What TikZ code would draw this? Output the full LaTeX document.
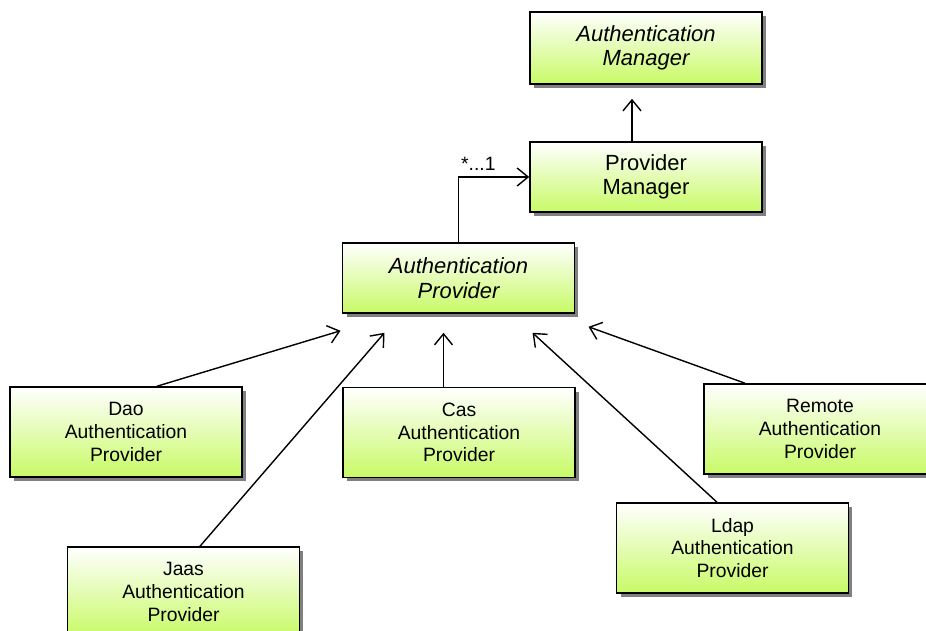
\documentclass[tikz,border=0pt]{standalone}
\usepackage{fontspec}
\setmainfont{Liberation Sans}
\usetikzlibrary{arrows.meta,positioning,calc,shadows}
\definecolor{boxlime}{HTML}{C8FA66}
\tikzstyle{classbox} = [rectangle, draw=black, line width=0.9pt, top color=white, bottom color=boxlime,
    drop shadow={shadow xshift=0.08cm, shadow yshift=-0.08cm, fill=black!50, opacity=1},
    minimum width=4.64cm, text width=4.4cm, align=center, font=\fontsize{11}{13}\selectfont]
\tikzstyle{abstractbox} = [classbox, font=\fontsize{12.5}{14}\selectfont\itshape, minimum height=1.44cm]
\tikzstyle{arrow} = [-{Straight Barb[length=2.2mm,width=3.6mm]}, line width=0.8pt]

\begin{document}
\begin{tikzpicture}[x=0.02cm, y=-0.02cm]
\useasboundingbox (0,0) rectangle (926,631);

% managers and the provider interface
\node[abstractbox] (authmgr) at (646,48) {Authentication\\Manager};
\node[classbox, font=\fontsize{12.5}{14}\selectfont, minimum height=1.4cm] (provmgr) at (646,177) {Provider\\Manager};
\node[abstractbox, minimum height=1.4cm] (authprov) at (458.5,278) {Authentication\\Provider};

% concrete providers
\node[classbox, minimum height=1.8cm] (dao) at (126,432) {Dao\\Authentication\\Provider};
\node[classbox, minimum height=1.8cm] (cas) at (459,432.5) {Cas\\Authentication\\Provider};
\node[classbox, minimum height=1.8cm] (remote) at (820,429) {Remote\\Authentication\\Provider};
\node[classbox, minimum height=1.8cm] (ldap) at (732.5,548) {Ldap\\Authentication\\Provider};
\node[classbox, minimum height=1.8cm] (jaas) at (183.5,592) {Jaas\\Authentication\\Provider};

% arrow tips stop short of the boxes
\coordinate (mgrtip) at ([shift={(-14,14)}]authmgr.south);
\coordinate (daotip) at ([shift={(-118,17)}]authprov.south);
\coordinate (jaastip) at ([shift={(-74,19)}]authprov.south);
\coordinate (castip) at ([shift={(-15,19)}]authprov.south);
\coordinate (ldaptip) at ([shift={(74,19)}]authprov.south);
\coordinate (remotetip) at ([shift={(130,13)}]authprov.south);

\draw[arrow] (provmgr.north -| mgrtip) -- (mgrtip);
\draw[arrow] (authprov.north) |- (provmgr.west) node[pos=0.64, above, font=\fontsize{11}{13}\selectfont] {*...1};
\draw[arrow] ([shift={(31,0)}]dao.north) -- (daotip);
\draw[arrow] ([shift={(16.5,0)}]jaas.north) -- (jaastip);
\draw[arrow] (cas.north -| castip) -- (castip);
\draw[arrow] ([shift={(-15.5,0)}]ldap.north) -- (ldaptip);
\draw[arrow] ([shift={(-75,0)}]remote.north) -- (remotetip);
\end{tikzpicture}
\end{document}
